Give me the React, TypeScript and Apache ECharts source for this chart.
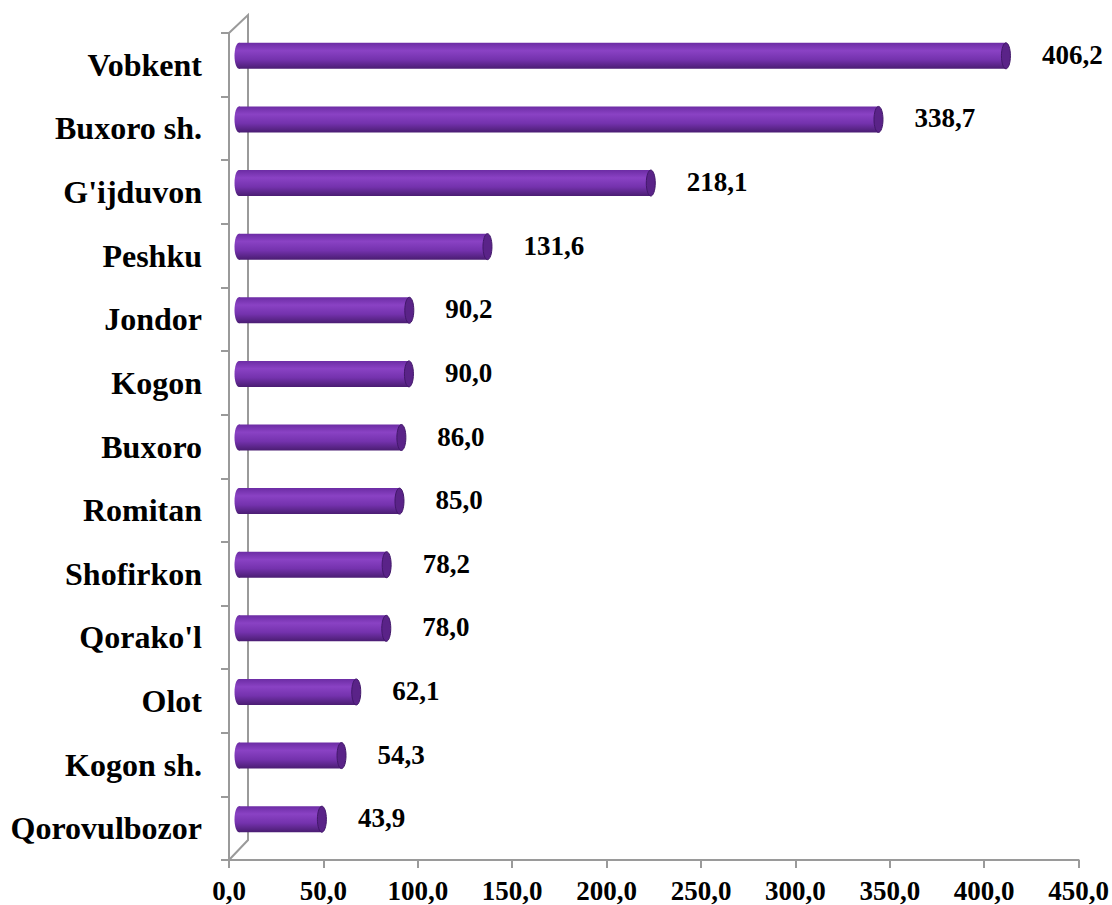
import React, { useEffect, useRef } from "react";
import * as echarts from "echarts";

const categories = [
  "Vobkent", "Buxoro sh.", "G'ijduvon", "Peshku", "Jondor", "Kogon", "Buxoro",
  "Romitan", "Shofirkon", "Qorako'l", "Olot", "Kogon sh.", "Qorovulbozor",
];
const values = [406.2, 338.7, 218.1, 131.6, 90.2, 90.0, 86.0, 85.0, 78.2, 78.0, 62.1, 54.3, 43.9];
const xMin = 0;
const xMax = 450;
const xInterval = 50;

const fmt = (v: number) => v.toFixed(1).replace(".", ",");
const FONT = "'Liberation Serif', 'Times New Roman', serif";

export default function App() {
  const ref = useRef<HTMLDivElement>(null);
  useEffect(() => {
    if (!ref.current) return;
    const chart = echarts.init(ref.current, undefined, { renderer: "svg" });
    const bodyFill = {
      type: "linear", x: 0, y: 0, x2: 0, y2: 1,
      colorStops: [
        { offset: 0, color: "#6c2ca4" },
        { offset: 0.3, color: "#8a42c4" },
        { offset: 0.65, color: "#7432ad" },
        { offset: 1, color: "#4a1d72" },
      ],
    };
    chart.setOption({
      animation: false,
      grid: { left: 229, right: 30, top: 33, bottom: 45, containLabel: false },
      xAxis: {
        type: "value",
        min: xMin,
        max: xMax,
        interval: xInterval,
        axisLine: { show: true, lineStyle: { color: "#9a9a9a", width: 2 } },
        axisTick: { show: true, length: 8, lineStyle: { color: "#9a9a9a", width: 2 } },
        splitLine: { show: false },
        axisLabel: {
          formatter: (v: number) => fmt(v),
          fontFamily: FONT,
          fontWeight: "bold",
          fontSize: 27,
          color: "#000",
          margin: 17,
        },
      },
      yAxis: {
        type: "category",
        data: categories,
        inverse: true,
        axisLine: { show: true, lineStyle: { color: "#9a9a9a", width: 2 } },
        axisTick: { show: true, length: 8, lineStyle: { color: "#9a9a9a", width: 2 } },
        axisLabel: {
          fontFamily: FONT,
          fontWeight: "bold",
          fontSize: 32,
          color: "#000",
          margin: 27,
        },
      },
      graphic: [
        {
          type: "polyline",
          shape: { points: [[229, 33], [248, 15], [248, 840], [229, 860]] },
          style: { stroke: "#9a9a9a", lineWidth: 2, fill: "none" },
          z: 1,
        },
      ],
      series: [
        {
          type: "custom",
          encode: { x: 0, y: 1 },
          data: values.map((v, i) => [v, i]),
          z: 5,
          renderItem: (params: any, api: any) => {
            const val = api.value(0);
            const cat = api.value(1);
            const p0 = api.coord([0, cat]);
            const p1 = api.coord([val, cat]);
            const dx = 10;
            const dy = -9;
            const h = 26;
            const rx = 4.5;
            const x0 = p0[0] + dx;
            const x1 = p1[0] + dx;
            const cy = p0[1] + dy;
            return {
              type: "group",
              children: [
                {
                  type: "ellipse",
                  shape: { cx: x0, cy, rx, ry: h / 2 },
                  style: { fill: bodyFill },
                },
                {
                  type: "rect",
                  shape: { x: x0, y: cy - h / 2, width: x1 - x0, height: h },
                  style: { fill: bodyFill },
                },
                {
                  type: "ellipse",
                  shape: { cx: x1, cy, rx, ry: h / 2 },
                  style: { fill: "#5a2388", stroke: "#42186a", lineWidth: 1 },
                },
                {
                  type: "text",
                  x: x1 + 36,
                  y: cy - 1,
                  style: {
                    text: fmt(val),
                    fontFamily: FONT,
                    fontWeight: "bold",
                    fontSize: 27,
                    fill: "#000",
                    align: "left",
                    verticalAlign: "middle",
                  },
                },
              ],
            };
          },
        },
      ],
    });
    return () => chart.dispose();
  }, []);
  return (
    <div
      ref={ref}
      style={{ position: "fixed", left: 0, top: 0, width: 1112, height: 905, background: "#fff" }}
    />
  );
}
